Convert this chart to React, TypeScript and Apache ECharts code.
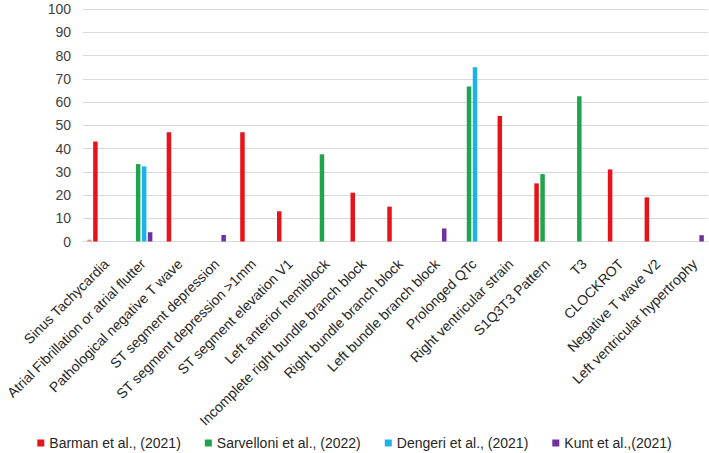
import React, { useEffect, useRef } from "react";
import * as echarts from "echarts";

const categories = [
  "Sinus Tachycardia",
  "Atrial Fibrillation or atrial flutter",
  "Pathological negative T wave",
  "ST segment depression",
  "ST segment depression >1mm",
  "ST segment elevation V1",
  "Left anterior hemiblock",
  "Incomplete right bundle branch block",
  "Right bundle branch block",
  "Left bundle branch block",
  "Prolonged QTc",
  "Right ventricular strain",
  "S1Q3T3 Pattern",
  "T3",
  "CLOCKROT",
  "Negative T wave V2",
  "Left ventricular hypertrophy",
];

const unlabeled = [0.8, null, null, null, null, null, null, null, null, null, null, null, null, null, null, null, null];
const barman = [43, null, 47, null, 47, 13, null, 21, 15, null, null, 54, 25, null, 31, 19, null];
const sarvelloni = [null, 33.3, null, null, null, null, 37.5, null, null, null, 66.7, null, 29, 62.5, null, null, null];
const dengeri = [null, 32.3, null, null, null, null, null, null, null, null, 75, null, null, null, null, null, null];
const kunt = [null, 4, null, 2.8, null, null, null, null, null, 5.6, null, null, null, null, null, null, 2.7];

const yTicks = { min: 0, max: 100, interval: 10 };

const seriesNames = [
  "Barman et al., (2021)",
  "Sarvelloni et al., (2022)",
  "Dengeri et al., (2021)",
  "Kunt et al.,(2021)",
];

const FONT = "'Liberation Sans', Arial, sans-serif";

export default function App() {
  const ref = useRef<HTMLDivElement>(null);
  useEffect(() => {
    if (!ref.current) return;
    const chart = echarts.init(ref.current, undefined, { renderer: "svg" });
    const bar = (name: string, data: (number | null)[], color: string) => ({
      name,
      type: "bar",
      data,
      barWidth: 4.5,
      barGap: "33%",
      itemStyle: { color },
    });
    chart.setOption({
      animation: false,
      textStyle: { fontFamily: FONT },
      grid: { left: 83, right: 1, top: 9, bottom: 211.5, containLabel: false },
      legend: {
        data: seriesNames,
        left: "center",
        top: 436,
        padding: 0,
        itemWidth: 7,
        itemHeight: 7,
        itemGap: 24,
        icon: "rect",
        textStyle: { fontSize: 14, color: "#262626", fontFamily: FONT },
      },
      xAxis: {
        type: "category",
        data: categories,
        axisLine: { lineStyle: { color: "#d9d9d9" } },
        axisTick: { show: false },
        axisLabel: {
          interval: 0,
          rotate: 45,
          fontSize: 14,
          margin: 15,
          align: "right",
          verticalAlign: "top",
          color: "#262626",
          fontFamily: FONT,
        },
      },
      yAxis: {
        type: "value",
        min: yTicks.min,
        max: yTicks.max,
        interval: yTicks.interval,
        axisLine: { show: false },
        axisTick: { show: false },
        splitLine: { lineStyle: { color: "#d9d9d9" } },
        axisLabel: { fontSize: 14, margin: 12, color: "#404040", fontFamily: FONT },
      },
      series: [
        bar("", unlabeled, "#f08a8a"),
        bar(seriesNames[0], barman, "#e8121a"),
        bar(seriesNames[1], sarvelloni, "#1fa64c"),
        bar(seriesNames[2], dengeri, "#1cb2ec"),
        bar(seriesNames[3], kunt, "#7030a0"),
      ],
    });
    return () => chart.dispose();
  }, []);
  return (
    <div
      ref={ref}
      style={{ position: "absolute", left: 0, top: 0, width: 709, height: 453, background: "#fff" }}
    />
  );
}
